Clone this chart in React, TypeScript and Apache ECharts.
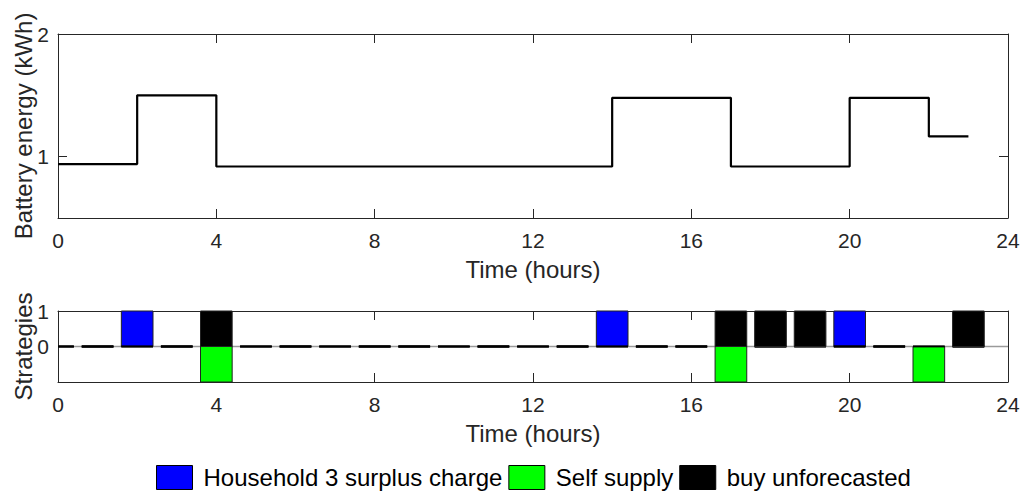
import React, { useEffect, useRef } from "react";
import * as echarts from "echarts";

// ---- data ----
const hours = [0, 1, 2, 3, 4, 5, 6, 7, 8, 9, 10, 11, 12, 13, 14, 15, 16, 17, 18, 19, 20, 21, 22, 23];
const energyHours = [0, 2, 4, 14, 17, 20, 22, 23];
const energyValues = [0.94, 1.5, 0.92, 1.48, 0.92, 1.48, 1.165, 1.165];
const household3Surplus = [0, 0, 1, 0, 0, 0, 0, 0, 0, 0, 0, 0, 0, 0, 1, 0, 0, 0, 0, 0, 1, 0, 0, 0];
const selfSupply = [0, 0, 0, 0, -1, 0, 0, 0, 0, 0, 0, 0, 0, 0, 0, 0, 0, -1, 0, 0, 0, 0, -1, 0];
const buyUnforecasted = [0, 0, 0, 0, 1, 0, 0, 0, 0, 0, 0, 0, 0, 0, 0, 0, 0, 1, 1, 1, 0, 0, 0, 1];
const xTicks = [0, 4, 8, 12, 16, 20, 24];
const energyTicks = [1, 2];
const strategyTicks = [0, 1];
const seriesNames = ["Household 3 surplus charge", "Self supply", "buy unforecasted"];
const seriesColors = ["#0000ff", "#00ff00", "#000000"];

const FONT = "'Liberation Sans', Arial, Helvetica, sans-serif";
const AX = "#262626";

function makeRenderItem(color: string) {
  return (params: any, api: any) => {
    const h = api.value(0);
    const v = api.value(1);
    const cs = params.coordSys;
    const a = api.coord([h - 0.4, 0]);
    const b = api.coord([h + 0.4, v]);
    const x0 = Math.max(a[0], cs.x);
    const x1 = Math.min(b[0], cs.x + cs.width);
    if (v === 0) {
      return {
        type: "line",
        shape: { x1: x0, y1: a[1], x2: x1, y2: a[1] },
        style: { stroke: "#000", lineWidth: 1.8 },
      };
    }
    return {
      type: "rect",
      shape: { x: x0, y: Math.min(a[1], b[1]), width: x1 - x0, height: Math.abs(b[1] - a[1]) },
      style: { fill: color, stroke: "#222", lineWidth: 1 },
    };
  };
}

function xAxisDef(gridIndex: number, top: boolean) {
  return {
    type: "value",
    gridIndex,
    position: top ? "top" : "bottom",
    min: 0,
    max: 24,
    axisLine: { show: true, onZero: false, lineStyle: { color: AX, width: 1 } },
    axisTick: { show: true, inside: true, length: 9, customValues: xTicks, lineStyle: { color: AX } },
    axisLabel: {
      show: !top,
      customValues: xTicks,
      margin: 12,
      fontSize: 21,
      color: AX,
      fontFamily: FONT,
    },
    splitLine: { show: false },
    name: top ? "" : "Time (hours)",
    nameLocation: "middle",
    nameGap: 39,
    nameTextStyle: { fontSize: 24, color: AX, fontFamily: FONT },
  };
}

function yAxisDef(gridIndex: number, right: boolean, min: number, max: number, ticks: number[], name: string) {
  return {
    type: "value",
    gridIndex,
    position: right ? "right" : "left",
    min,
    max,
    axisLine: { show: true, onZero: false, lineStyle: { color: AX, width: 1 } },
    axisTick: { show: true, inside: true, length: 9, customValues: ticks, lineStyle: { color: AX } },
    axisLabel: {
      show: !right,
      customValues: ticks,
      margin: 9,
      fontSize: 21,
      color: AX,
      fontFamily: FONT,
    },
    splitLine: { show: false },
    name: right ? "" : name,
    nameLocation: "middle",
    nameGap: 23,
    nameMoveOverlap: false,
    nameTextStyle: { fontSize: 24, color: AX, fontFamily: FONT },
  };
}

export default function App() {
  const ref = useRef<HTMLDivElement>(null);
  useEffect(() => {
    if (!ref.current) return;
    const chart = echarts.init(ref.current, null, { renderer: "svg" });
    const strategyArrays = [household3Surplus, selfSupply, buyUnforecasted];
    const option: any = {
      animation: false,
      backgroundColor: "#ffffff",
      textStyle: { fontFamily: FONT },
      grid: [
        { left: 58, top: 34, width: 950, height: 184, outerBoundsMode: "none", containLabel: false },
        { left: 58, top: 311, width: 950, height: 71, outerBoundsMode: "none", containLabel: false },
      ],
      xAxis: [xAxisDef(0, false), xAxisDef(0, true), xAxisDef(1, false), xAxisDef(1, true)],
      yAxis: [
        yAxisDef(0, false, 0.5, 2, energyTicks, "Battery energy (kWh)"),
        yAxisDef(0, true, 0.5, 2, energyTicks, ""),
        yAxisDef(1, false, -1, 1, strategyTicks, "Strategies"),
        yAxisDef(1, true, -1, 1, strategyTicks, ""),
      ],
      legend: {
        data: seriesNames,
        left: 156,
        top: 465,
        icon: "rect",
        itemWidth: 36,
        itemHeight: 24,
        itemGap: 6,
        padding: 0,
        textStyle: { fontSize: 24, color: "#000", fontFamily: FONT, padding: [0, 0, 0, 6] },
        itemStyle: { borderColor: "#000", borderWidth: 1 },
      },
      series: [
        {
          type: "line",
          name: "energy",
          xAxisIndex: 0,
          yAxisIndex: 0,
          step: "end",
          data: energyHours.map((h, i) => [h, energyValues[i]]),
          showSymbol: false,
          symbol: "none",
          lineStyle: { color: "#000", width: 2.2 },
          silent: true,
        },
        {
          type: "line",
          name: "baseline",
          xAxisIndex: 2,
          yAxisIndex: 2,
          data: [
            [0, 0],
            [24, 0],
          ],
          showSymbol: false,
          symbol: "none",
          lineStyle: { color: "#9a9a9a", width: 1.6 },
          z: 1,
          silent: true,
        },
        ...seriesNames.map((name, k) => ({
          type: "custom",
          name,
          xAxisIndex: 2,
          yAxisIndex: 2,
          z: 3,
          itemStyle: { color: seriesColors[k], borderColor: "#000", borderWidth: 1 },
          encode: { x: 0, y: 1 },
          data: hours.map((h, i) => [h, strategyArrays[k][i]]),
          renderItem: makeRenderItem(seriesColors[k]),
        })),
      ],
    };
    chart.setOption(option);
    return () => chart.dispose();
  }, []);
  return (
    <div
      ref={ref}
      style={{ position: "absolute", left: 0, top: 0, width: 1027, height: 493, background: "#fff" }}
    />
  );
}
